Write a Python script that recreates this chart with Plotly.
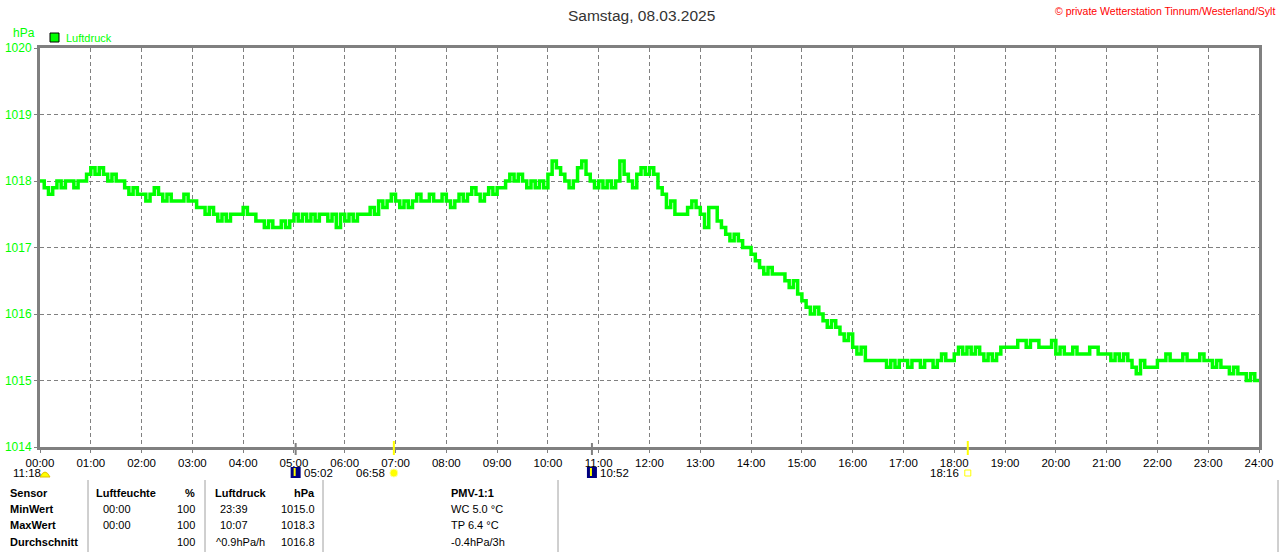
import plotly.graph_objects as go

# Luftdruck (hPa), 5-Minuten-Werte von 00:00 bis 24:00
druck_00_06 = [
    1018.0, 1017.9, 1017.8, 1017.9, 1018.0, 1017.9, 1018.0, 1018.0, 1017.9, 1018.0, 1018.0, 1018.1,
    1018.2, 1018.1, 1018.2, 1018.1, 1018.0, 1018.1, 1018.0, 1018.0, 1017.9, 1017.8, 1017.9, 1017.8,
    1017.8, 1017.7, 1017.8, 1017.9, 1017.8, 1017.7, 1017.8, 1017.7, 1017.7, 1017.7, 1017.8, 1017.7,
    1017.7, 1017.6, 1017.6, 1017.5, 1017.6, 1017.5, 1017.4, 1017.5, 1017.4, 1017.5, 1017.5, 1017.5,
    1017.6, 1017.5, 1017.5, 1017.4, 1017.4, 1017.3, 1017.4, 1017.3, 1017.3, 1017.4, 1017.3, 1017.4,
    1017.5, 1017.4, 1017.5, 1017.4, 1017.5, 1017.4, 1017.5, 1017.5, 1017.4, 1017.5, 1017.3, 1017.5,
]
druck_06_12 = [
    1017.4, 1017.5, 1017.4, 1017.5, 1017.5, 1017.5, 1017.6, 1017.5, 1017.7, 1017.6, 1017.7, 1017.8,
    1017.7, 1017.6, 1017.7, 1017.6, 1017.7, 1017.8, 1017.7, 1017.7, 1017.8, 1017.7, 1017.7, 1017.8,
    1017.7, 1017.6, 1017.7, 1017.8, 1017.7, 1017.8, 1017.9, 1017.8, 1017.7, 1017.8, 1017.9, 1017.8,
    1017.9, 1017.9, 1018.0, 1018.1, 1018.0, 1018.1, 1018.0, 1017.9, 1018.0, 1017.9, 1018.0, 1017.9,
    1018.1, 1018.3, 1018.2, 1018.1, 1018.0, 1017.9, 1018.0, 1018.2, 1018.3, 1018.1, 1018.0, 1017.9,
    1018.0, 1017.9, 1018.0, 1017.9, 1018.0, 1018.3, 1018.1, 1018.0, 1017.9, 1018.1, 1018.2, 1018.1,
]
druck_12_18 = [
    1018.2, 1018.1, 1017.9, 1017.8, 1017.6, 1017.7, 1017.5, 1017.5, 1017.5, 1017.6, 1017.7, 1017.6,
    1017.5, 1017.3, 1017.6, 1017.6, 1017.4, 1017.3, 1017.2, 1017.1, 1017.2, 1017.1, 1017.0, 1017.0,
    1016.9, 1016.8, 1016.7, 1016.6, 1016.7, 1016.6, 1016.6, 1016.6, 1016.5, 1016.4, 1016.5, 1016.3,
    1016.2, 1016.1, 1016.0, 1016.1, 1016.0, 1015.9, 1015.8, 1015.9, 1015.8, 1015.7, 1015.6, 1015.7,
    1015.5, 1015.4, 1015.5, 1015.3, 1015.3, 1015.3, 1015.3, 1015.3, 1015.2, 1015.3, 1015.2, 1015.3,
    1015.3, 1015.2, 1015.3, 1015.3, 1015.2, 1015.3, 1015.3, 1015.2, 1015.3, 1015.4, 1015.3, 1015.3,
]
druck_18_24 = [
    1015.4, 1015.5, 1015.4, 1015.5, 1015.4, 1015.5, 1015.4, 1015.3, 1015.4, 1015.3, 1015.4, 1015.5,
    1015.5, 1015.5, 1015.5, 1015.6, 1015.6, 1015.5, 1015.6, 1015.6, 1015.5, 1015.5, 1015.5, 1015.6,
    1015.4, 1015.5, 1015.4, 1015.4, 1015.5, 1015.4, 1015.4, 1015.4, 1015.5, 1015.5, 1015.4, 1015.4,
    1015.4, 1015.3, 1015.4, 1015.3, 1015.4, 1015.3, 1015.2, 1015.1, 1015.3, 1015.2, 1015.2, 1015.2,
    1015.3, 1015.3, 1015.4, 1015.3, 1015.3, 1015.3, 1015.4, 1015.3, 1015.3, 1015.3, 1015.4, 1015.3,
    1015.3, 1015.2, 1015.3, 1015.2, 1015.2, 1015.1, 1015.2, 1015.1, 1015.1, 1015.0, 1015.1, 1015.0,
    1015.0,
]
druck = druck_00_06 + druck_06_12 + druck_12_18 + druck_18_24
stunden = [i * 5 / 60 for i in range(len(druck))]

x_ticks = list(range(25))
x_labels = [f"{h:02d}:00" for h in x_ticks]
y_ticks = [1014, 1015, 1016, 1017, 1018, 1019, 1020]

# Sonne / Mond Auf- und Untergang (Stunden, Text)
mond_unter = (5 + 2 / 60, "05:02")
sonne_auf = (6 + 58 / 60, "06:58")
mond_auf = (10 + 52 / 60, "10:52")
sonne_unter = (18 + 16 / 60, "18:16")
mond_text = "11:18"

# Tabelle unten
tab_zeilen = ["Sensor", "MinWert", "MaxWert", "Durchschnitt"]
feuchte_zeit = ["", "00:00", "00:00", ""]
feuchte_wert = ["%", "100", "100", "100"]
druck_zeit = ["", "23:39", "10:07", "^0.9hPa/h"]
druck_wert = ["hPa", "1015.0", "1018.3", "1016.8"]
pmv_text = ["PMV-1:1", "WC 5.0 °C", "TP 6.4 °C", "-0.4hPa/3h"]

GREEN = "#00ff00"
GRID = "#808080"
FONT = "Liberation Sans, Arial, sans-serif"

W, H = 1280, 552
L, R, T, B = 40, 1259, 48, 447


def px(x):
    return (x - L) / (R - L)


def py(y):
    return (B - y) / (B - T)


def hx(h):
    # Stunde -> Pixel
    return L + h * (R - L) / 24


fig = go.Figure()
fig.add_trace(go.Scatter(x=stunden, y=druck, mode="lines", line=dict(color=GREEN, width=3.5, shape="hv"),
                         hoverinfo="x+y", showlegend=False))

ann = []
shapes = []


def text(x, y, s, color="black", size=11, anchor="left", bold=False):
    if bold:
        s = f"<b>{s}</b>"
    ann.append(dict(x=px(x), y=py(y), xref="paper", yref="paper", text=s, showarrow=False,
                    xanchor=anchor, yanchor="middle", font=dict(family=FONT, size=size, color=color)))


def line(x0, y0, x1, y1, color, width=1):
    shapes.append(dict(type="line", xref="paper", yref="paper", x0=px(x0), x1=px(x1), y0=py(y0), y1=py(y1),
                       line=dict(color=color, width=width)))


# Titel etc.
text(641, 15, "Samstag, 08.03.2025", color="#333333", size=15.5, anchor="center")
text(1277, 11, "© private Wetterstation Tinnum/Westerland/Sylt", color="#ff0000", size=10.5, anchor="right")
text(11, 33, "hPa", color=GREEN, size=12)
shapes.append(dict(type="rect", xref="paper", yref="paper", x0=px(50), x1=px(59), y0=py(33), y1=py(42),
                   fillcolor=GREEN, line=dict(color="black", width=1)))
text(64, 38, "Luftdruck", color=GREEN, size=11)

# Marker an der Zeitachse
for h, col, top in [(mond_unter[0], GRID, 443), (sonne_auf[0], "#ffff00", 441),
                    (mond_auf[0], GRID, 443), (sonne_unter[0], "#ffff00", 441)]:
    line(hx(h), top, hx(h), 455, col, 2)

# Mond / Sonne Zeile
text(11, 473, mond_text, size=11.5)
shapes.append(dict(type="path", xref="paper", yref="paper",
                   path=f"M {px(40)},{py(477)} L {px(50)},{py(477)} Q {px(45)},{py(467)} {px(40)},{py(477)} Z",
                   fillcolor="#ffff00", line=dict(color="#e0c000", width=1)))
for h, label in [mond_unter, mond_auf]:
    xx = hx(h)
    shapes.append(dict(type="rect", xref="paper", yref="paper", x0=px(xx - 5), x1=px(xx + 5),
                       y0=py(467), y1=py(478), fillcolor="#000080", line=dict(width=0)))
    line(xx - 1, 468, xx - 1, 476, "#ffff00", 2)
    text(xx + 6, 473, label, size=11.5)
xx = hx(sonne_auf[0])
text(xx - 7, 473, sonne_auf[1], size=11.5, anchor="right")
shapes.append(dict(type="circle", xref="paper", yref="paper", x0=px(xx - 4), x1=px(xx + 4),
                   y0=py(469), y1=py(477), fillcolor="#ffff00", line=dict(color="#ffffa0", width=1)))
xx = hx(sonne_unter[0])
text(xx - 7, 473, sonne_unter[1], size=11.5, anchor="right")
shapes.append(dict(type="rect", xref="paper", yref="paper", x0=px(xx - 3), x1=px(xx + 3),
                   y0=py(470), y1=py(476), line=dict(color="#ffff00", width=1)))

# Tabelle
for lx in [88, 205, 323, 558, 1278]:
    line(lx, 480, lx, 552, "#a0a0a0", 1)
rows_y = [493, 509, 525, 542]
for i, y in enumerate(rows_y):
    text(8, y, tab_zeilen[i], bold=True)
    if i == 0:
        text(94, y, "Luftfeuchte", bold=True)
        text(197, y, feuchte_wert[i], anchor="right", bold=True)
        text(213, y, "Luftdruck", bold=True)
        text(317, y, druck_wert[i], anchor="right", bold=True)
        text(472, y, pmv_text[i], anchor="center", bold=True)
    else:
        text(101, y, feuchte_zeit[i])
        text(197, y, feuchte_wert[i], anchor="right")
        text(214 if i == 3 else 218, y, druck_zeit[i])
        text(317, y, druck_wert[i], anchor="right")
        text(449, y, pmv_text[i])

fig.update_layout(
    width=W, height=H,
    margin=dict(l=L, r=W - R, t=T, b=H - B),
    paper_bgcolor="white", plot_bgcolor="white",
    showlegend=False,
    annotations=ann, shapes=shapes,
    font=dict(family=FONT, size=11, color="black"),
    xaxis=dict(range=[0, 24], tickvals=x_ticks, ticktext=x_labels, showgrid=True, gridcolor=GRID,
               griddash="4px,3px", gridwidth=1, showline=True, linecolor=GRID, linewidth=3, mirror=True,
               ticks="outside", ticklen=3, tickcolor=GRID, zeroline=False, automargin=False,
               tickfont=dict(family=FONT, size=11.5, color="black")),
    yaxis=dict(range=[1014, 1020], tickvals=y_ticks, showgrid=True, gridcolor=GRID, griddash="4px,3px",
               gridwidth=1, showline=True, linecolor=GRID, linewidth=3, mirror=True, ticks="outside",
               ticklen=3, tickcolor=GRID, zeroline=False, automargin=False,
               tickfont=dict(family=FONT, size=12, color=GREEN)),
)

fig.write_html("out.html", config={"displayModeBar": False},
               post_script="document.body.style.margin='0';")
